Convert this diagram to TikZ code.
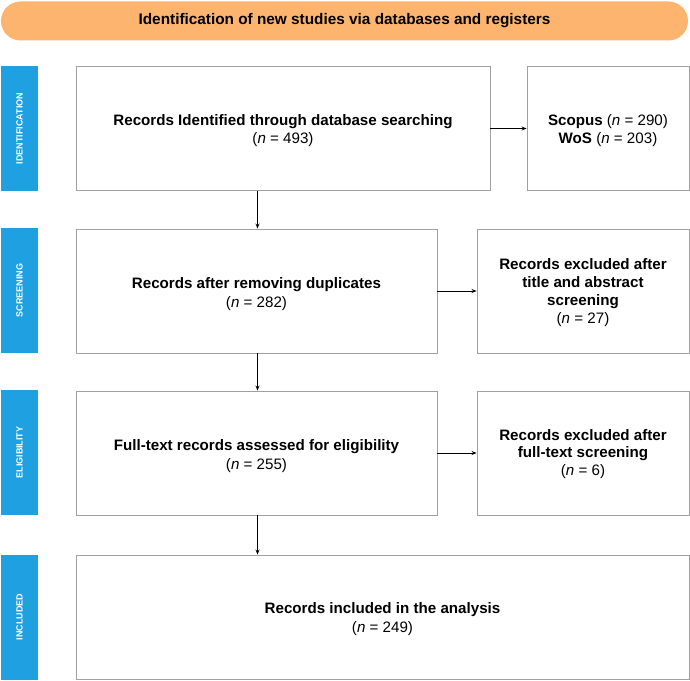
\documentclass[tikz,border=0pt]{standalone}
\usepackage{fontspec}
\setmainfont{Liberation Sans}
\usetikzlibrary{arrows.meta,calc}
\definecolor{bandorange}{HTML}{FDB46F}
\definecolor{sideblue}{HTML}{1FA0E0}
\definecolor{boxgray}{HTML}{A0A0A0}
\newcommand{\fsz}[2]{\fontsize{#1}{#2}\selectfont}
\begin{document}
\begin{tikzpicture}[x=1bp,y=-1bp, every node/.style={font=\fsz{15.2}{18.5}},
  box/.style={draw=boxgray,line width=0.9bp,inner sep=0pt,minimum height=124bp},
  txt/.style={align=center,inner sep=0pt},
  phase/.style={fill=sideblue,minimum width=37bp,minimum height=125bp,inner sep=0pt,
    text=white,font=\fsz{9}{10}\bfseries},
  flow/.style={-{Stealth[length=5bp,width=4bp]},line width=0.8bp}]
\useasboundingbox (0,0) rectangle (690,681);
% banner
\node[fill=bandorange,rounded corners=19.5bp,minimum width=687bp,minimum height=39bp,inner sep=0pt,
  font=\fsz{15.4}{18}\bfseries] (title) at (344.5,21) {Identification of new studies via databases and registers};
% phase labels
\node[phase] (pid) at (19.5,128.5) {\rotatebox{90}{IDENTIFICATION}};
\node[phase] (psc) at (19.5,290.5) {\rotatebox{90}{SCREENING}};
\node[phase] (pel) at (19.5,452.5) {\rotatebox{90}{ELIGIBILITY}};
\node[phase] (pin) at (19.5,617) {\rotatebox{90}{INCLUDED}};
% boxes
\node[box,minimum width=414bp] (ident) at (283,128.5) {};
\node[box,minimum width=361bp] (dedup) at (256.5,291) {};
\node[box,minimum width=361bp] (full) at (256.5,453) {};
\node[box,minimum width=613bp] (incl) at (382.5,617) {};
\node[box,minimum width=162bp] (dbs) at (608,128.5) {};
\node[box,minimum width=212bp] (excl1) at (583,291) {};
\node[box,minimum width=212bp] (excl2) at (583,453) {};
% texts
\node[txt] (identtxt) at (283,130.5) {\textbf{Records Identified through database searching}\\(\textit{n} = 493)};
\node[txt] (deduptxt) at (256.5,294) {\textbf{Records after removing duplicates}\\(\textit{n} = 282)};
\node[txt] (fulltxt) at (256.5,456) {\textbf{Full-text records assessed for eligibility}\\(\textit{n} = 255)};
\node[txt] (incltxt) at (382.5,619) {\textbf{Records included in the analysis}\\(\textit{n} = 249)};
\node[txt] (dbstxt) at (608,130.5) {\textbf{Scopus} (\textit{n} = 290)\\\textbf{WoS} (\textit{n} = 203)};
\node[txt,font=\fsz{15.2}{17.8}] (excl1txt) at (583,292.5) {\textbf{Records excluded after}\\\textbf{title and abstract}\\\textbf{screening}\\(\textit{n} = 27)};
\node[txt,font=\fsz{15.2}{17.8}] (excl2txt) at (583,454) {\textbf{Records excluded after}\\\textbf{full-text screening}\\(\textit{n} = 6)};
% connectors
\coordinate (ax) at (257.5,0);
\draw[flow] (ident.south -| ax) -- (dedup.north -| ax);
\draw[flow] (dedup.south -| ax) -- (full.north -| ax);
\draw[flow] (full.south -| ax) -- (incl.north -| ax);
\draw[flow] (ident.east) -- (dbs.west);
\draw[flow] (dedup.east) -- (excl1.west);
\draw[flow] (full.east) -- (excl2.west);
\end{tikzpicture}
\end{document}
